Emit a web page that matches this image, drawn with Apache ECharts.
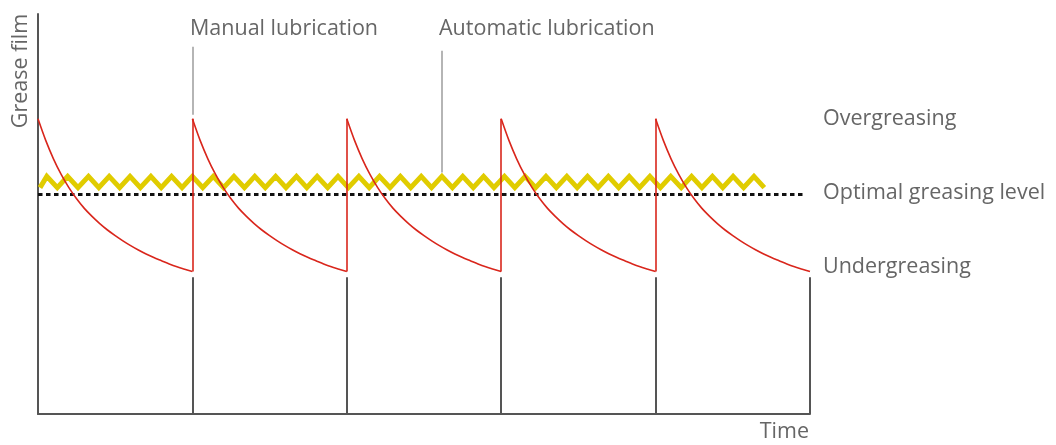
<!DOCTYPE html>
<html>
<head>
<meta charset="utf-8">
<script src="https://cdn.jsdelivr.net/npm/echarts@6.0.0/dist/echarts.min.js"></script>
<style>
  html, body { margin: 0; padding: 0; background: #fff; }
  #chart { width: 1056px; height: 445px; }
</style>
</head>
<body>
<div id="chart"></div>
<script>
// time unit = one manual lubrication interval, film in % of the plot height
const cycleStarts = [0, 1, 2, 3, 4];
const decayT = [0, 0.05, 0.1, 0.15, 0.2, 0.25, 0.3, 0.35, 0.4, 0.45, 0.5,
  0.55, 0.6, 0.65, 0.7, 0.75, 0.8, 0.85, 0.9, 0.95, 1];
const decayFilm = [73.8, 68.4, 63.8, 59.9, 56.6, 53.8, 51.4, 49.4, 47.6, 46.0, 44.6,
  43.3, 42.1, 41.0, 40.0, 39.1, 38.3, 37.5, 36.8, 36.2, 35.6];

// automatic lubrication zigzag
const zigPeaksX = [0.057, 0.192, 0.327, 0.461, 0.596, 0.731, 0.865, 1.0, 1.135, 1.269, 1.404, 1.539,
  1.674, 1.808, 1.943, 2.078, 2.212, 2.347, 2.482, 2.616, 2.751, 2.886, 3.021, 3.155, 3.29, 3.425,
  3.559, 3.694, 3.829, 3.963, 4.098, 4.233, 4.368, 4.502, 4.637];
const zigTroughsX = [0.013, 0.125, 0.259, 0.394, 0.529, 0.663, 0.798, 0.933, 1.067, 1.202, 1.337,
  1.472, 1.606, 1.741, 1.876, 2.01, 2.145, 2.28, 2.414, 2.549, 2.684, 2.819, 2.953, 3.088, 3.223,
  3.357, 3.492, 3.627, 3.761, 3.896, 4.031, 4.166, 4.3, 4.435, 4.57, 4.704];
const zigHigh = 59.4;
const zigLow = 56.6;

const optimalLevel = 54.9;
const optimalEnd = 4.97;
const manualTimes = [1, 2, 3, 4, 5];
const stemTop = 34.2;

const calloutX = [1, 2.617];
const calloutTop = [91.8, 90.8];
const calloutBottom = [74.8, 60.4];

const red = '#d9261c';

const zigData = [];
zigTroughsX.forEach(function (x) { zigData.push([x, zigLow]); });
zigPeaksX.forEach(function (x) { zigData.push([x, zigHigh]); });
zigData.sort(function (a, b) { return a[0] - b[0]; });

const stemLines = manualTimes.map(function (x) {
  return [{ coord: [x, 0] }, { coord: [x, stemTop] }];
});
const calloutLines = calloutX.map(function (x, i) {
  return [{ coord: [x, calloutBottom[i]] }, { coord: [x, calloutTop[i]] }];
});
// red jumps where grease is added by hand
const refillLines = cycleStarts.slice(1).map(function (x) {
  return [{ coord: [x, decayFilm[decayFilm.length - 1]] }, { coord: [x, decayFilm[0]] }];
});

const cycleSeries = cycleStarts.map(function (c, k) {
  const s = {
    type: 'line',
    name: 'manual',
    data: decayT.map(function (t, i) { return [c + t, decayFilm[i]]; }),
    showSymbol: false,
    smooth: 0.3,
    lineStyle: { color: red, width: 1.6 },
    z: 5
  };
  if (k === 0) {
    s.markLine = {
      silent: true,
      symbol: ['none', 'none'],
      label: { show: false },
      lineStyle: { color: red, width: 1.6, type: 'solid' },
      data: refillLines
    };
  }
  return s;
});

const font = '"Open Sans", "Noto Sans", sans-serif';
const textGray = '#666';
const textSize = 21.5;

function label(text, x, y, align) {
  return {
    type: 'text',
    x: x,
    y: y,
    style: {
      text: text,
      fill: textGray,
      fontSize: textSize,
      fontFamily: font,
      textAlign: align || 'left',
      textVerticalAlign: 'middle'
    }
  };
}

const chart = echarts.init(document.getElementById('chart'));
chart.setOption({
  animation: false,
  grid: { left: 38, right: 246, top: 14, bottom: 31 },
  xAxis: {
    type: 'value',
    min: 0,
    max: 5,
    axisLine: { show: true, lineStyle: { color: '#555', width: 2 } },
    axisTick: { show: false },
    axisLabel: { show: false },
    splitLine: { show: false }
  },
  yAxis: {
    type: 'value',
    min: 0,
    max: 100,
    axisLine: { show: true, lineStyle: { color: '#555', width: 2 } },
    axisTick: { show: false },
    axisLabel: { show: false },
    splitLine: { show: false }
  },
  series: [
    {
      type: 'line',
      name: 'stems',
      data: [],
      markLine: {
        silent: true,
        symbol: ['none', 'none'],
        label: { show: false },
        lineStyle: { color: '#555', width: 2, type: 'solid' },
        data: stemLines
      }
    },
    {
      type: 'line',
      name: 'callouts',
      data: [],
      markLine: {
        silent: true,
        symbol: ['none', 'none'],
        label: { show: false },
        lineStyle: { color: '#b5b5b5', width: 2, type: 'solid' },
        data: calloutLines
      }
    },
    {
      type: 'line',
      name: 'optimal',
      data: [[0, optimalLevel], [optimalEnd, optimalLevel]],
      showSymbol: false,
      lineStyle: { color: '#111', width: 3, type: [4.5, 3.5] },
      z: 3
    },
    {
      type: 'line',
      name: 'automatic',
      data: zigData,
      showSymbol: false,
      lineStyle: { color: '#e0cc00', width: 5, join: 'miter' },
      z: 4
    }
  ].concat(cycleSeries),
  graphic: [
    {
      type: 'text',
      x: 21,
      y: 71,
      rotation: Math.PI / 2,
      style: {
        text: 'Grease film',
        fill: textGray,
        fontSize: textSize,
        fontFamily: font,
        textAlign: 'center',
        textVerticalAlign: 'middle'
      }
    },
    label('Manual lubrication', 190, 29),
    label('Automatic lubrication', 439, 29),
    label('Overgreasing', 823, 119),
    label('Optimal greasing level', 823, 193),
    label('Undergreasing', 823, 267),
    label('Time', 809, 432, 'right')
  ]
});
</script>
</body>
</html>
